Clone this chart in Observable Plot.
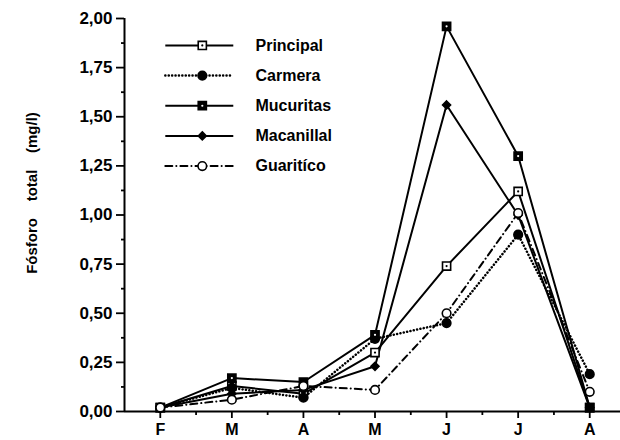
<!DOCTYPE html>
<html><head><meta charset="utf-8">
<script src="https://cdn.jsdelivr.net/npm/d3@7"></script>
<script src="https://cdn.jsdelivr.net/npm/@observablehq/plot@0.6"></script>
<style>body{margin:0;background:#fff} #chart{position:absolute;left:0;top:0}</style>
</head><body><div id="chart"></div>
<script>
// ---- data ----
const months = ["F", "M", "A", "M", "J", "J", "A"];
const seriesNames = ["Principal", "Carmera", "Mucuritas", "Macanillal", "Guaritíco"];
const principal  = [0.02, 0.13, 0.09, 0.30, 0.74, 1.12, 0.02];
const carmera    = [0.02, 0.12, 0.07, 0.37, 0.45, 0.90, 0.19];
const mucuritas  = [0.02, 0.17, 0.15, 0.39, 1.96, 1.30, 0.02];
const macanillal = [0.02, 0.09, 0.11, 0.23, 1.56, 1.00, 0.02];
const guaritico  = [0.02, 0.06, 0.13, 0.11, 0.50, 1.01, 0.10];
const yTicks = [0, 0.25, 0.5, 0.75, 1, 1.25, 1.5, 1.75, 2];
const yTickLabels = ["0,00", "0,25", "0,50", "0,75", "1,00", "1,25", "1,50", "1,75", "2,00"];
const yTitle = "Fósforo\u00a0\u00a0\u00a0\u00a0total\u00a0\u00a0\u00a0\u00a0(mg/l)";

const seriesValues = [principal, carmera, mucuritas, macanillal, guaritico];
const rows = seriesNames.flatMap((s, k) => seriesValues[k].map((v, i) => ({s, k, i, v})));

const styles = [
  {dash: null, cap: "butt", sw: 2, symbol: "square", fill: "white", r: 4.6, center: "black"},
  {dash: "0.1,3.3", cap: "round", sw: 2.5, symbol: "circle", fill: "black", r: 4.3},
  {dash: null, cap: "butt", sw: 2, symbol: "square", fill: "black", r: 4.6, center: "white"},
  {dash: null, cap: "butt", sw: 2, symbol: "diamond2", fill: "black", r: 3.6},
  {dash: "7,4,0.1,4", cap: "round", sw: 2, symbol: "circle", fill: "white", r: 4.3}
];

// legend layout (in data units)
const legend = seriesNames.map((s, k) => ({s, k, x1: 0.07, x2: 1.02, xm: 0.587, xt: 1.33, y: 1.863 - k * 0.1535}));

const minorY = yTicks.slice(0, -1).map(d => d + 0.125);
const monthIdx = months.map((m, i) => i);
const minorX = months.map((m, i) => i + 0.5);

const font = "'Liberation Sans', Arial, Helvetica, sans-serif";

const marks = [
  Plot.ruleY([0], {stroke: "black", strokeWidth: 2}),
  Plot.ruleX([-0.5], {y1: 0, y2: 2, stroke: "black", strokeWidth: 2}),
  Plot.axisY(yTicks, {tickSize: 8, tickPadding: 4, strokeWidth: 1.8, fontSize: 17, fontWeight: "bold", fill: "black",
    tickFormat: d => yTickLabels[yTicks.indexOf(d)], label: null}),
  Plot.axisY(minorY, {tickSize: 3, strokeWidth: 1.8, text: null, label: null}),
  Plot.axisX(monthIdx, {tickSize: 7, tickPadding: 5, strokeWidth: 1.8, fontSize: 16, fontWeight: "bold", fill: "black",
    tickFormat: i => months[i], label: null}),
  Plot.axisX(minorX, {tickSize: 4, strokeWidth: 1.8, text: null, label: null}),
  Plot.text([yTitle], {frameAnchor: "left", textAnchor: "middle", dx: -92, dy: -22, rotate: -90,
    fontSize: 15, fontWeight: "bold", fill: "black", ariaLabel: "ytitle"})
];

styles.forEach((st, k) => {
  marks.push(Plot.line(rows, {filter: d => d.k === k, x: "i", y: "v", stroke: "black", strokeWidth: st.sw,
    strokeDasharray: st.dash, strokeLinecap: st.cap}));
});
styles.forEach((st, k) => {
  marks.push(Plot.dot(rows, {filter: d => d.k === k, x: "i", y: "v", symbol: st.symbol, r: st.r,
    fill: st.fill, stroke: "black", strokeWidth: 1.6}));
  if (st.center) marks.push(Plot.dot(rows, {filter: d => d.k === k, x: "i", y: "v", r: 1.1, fill: st.center}));
});
// legend
styles.forEach((st, k) => {
  const L = legend.filter(d => d.k === k);
  marks.push(Plot.link(L, {x1: "x1", x2: "x2", y1: "y", y2: "y", stroke: "black", strokeWidth: st.sw,
    strokeDasharray: st.dash, strokeLinecap: st.cap}));
  marks.push(Plot.dot(L, {x: "xm", y: "y", symbol: st.symbol, r: st.r, fill: st.fill, stroke: "black", strokeWidth: 1.6}));
  if (st.center) marks.push(Plot.dot(L, {x: "xm", y: "y", r: 1.1, fill: st.center}));
  marks.push(Plot.text(L, {x: "xt", y: "y", text: "s", textAnchor: "start", fontSize: 16, fontWeight: "bold", fill: "black"}));
});

const chart = Plot.plot({
  width: 620, height: 440,
  marginLeft: 124, marginRight: 0, marginTop: 18, marginBottom: 29,
  style: {fontFamily: font, background: "white", overflow: "visible"},
  x: {type: "linear", domain: [-0.5, 6.43], axis: null},
  y: {domain: [0, 2], axis: null},
  marks
});
d3.select(chart).selectAll('g[aria-label="ytitle"] text').attr("letter-spacing", "2px");
document.getElementById("chart").appendChild(chart);
</script>
</body></html>
